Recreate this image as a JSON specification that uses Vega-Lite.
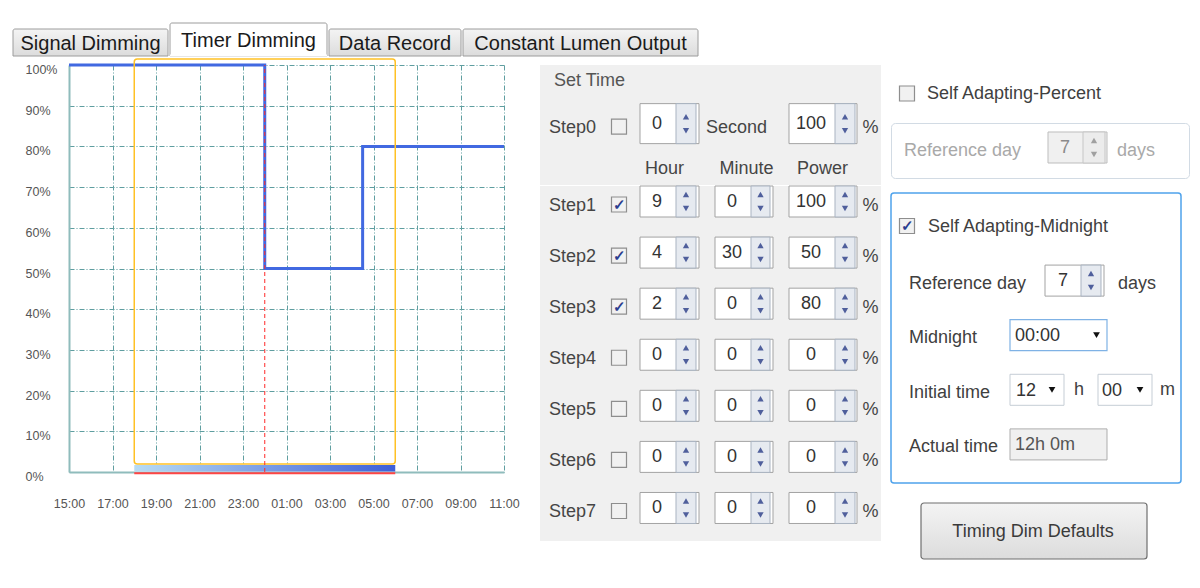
{
"$schema": "https://vega.github.io/schema/vega-lite/v6.json",
"background": "#ffffff",
"padding": {"left": 12, "top": 22, "right": 0, "bottom": 0},
"config": {"view": {"stroke": null}, "font": "Liberation Sans"},
"spacing": 1,
"datasets": {
  "power": [
    {"h": 15, "p": 100},
    {"h": 24, "p": 50},
    {"h": 28.5, "p": 80},
    {"h": 35, "p": 80}
  ],
  "win": [{"start": 18, "end": 30}],
  "midnight": [{"h": 24}],
  "step0": [{"step": "Step0", "on": false, "sec": 0, "unit": "Second", "power": 100, "pct": "%"}],
  "steps": [
    {"step": "Step1", "on": true, "hour": 9, "minute": 0, "power": 100, "pct": "%"},
    {"step": "Step2", "on": true, "hour": 4, "minute": 30, "power": 50, "pct": "%"},
    {"step": "Step3", "on": true, "hour": 2, "minute": 0, "power": 80, "pct": "%"},
    {"step": "Step4", "on": false, "hour": 0, "minute": 0, "power": 0, "pct": "%"},
    {"step": "Step5", "on": false, "hour": 0, "minute": 0, "power": 0, "pct": "%"},
    {"step": "Step6", "on": false, "hour": 0, "minute": 0, "power": 0, "pct": "%"},
    {"step": "Step7", "on": false, "hour": 0, "minute": 0, "power": 0, "pct": "%"}
  ],
  "percent": [{"label": "Self Adapting-Percent", "on": false}],
  "percentRef": [{"label": "Reference day", "value": 7, "unit": "days"}],
  "adapt": [
    {"row": "Self Adapting-Midnight", "on": true},
    {"row": "Reference day", "value": "7", "unit": "days"},
    {"row": "Midnight", "value": "00:00"},
    {"row": "Initial time", "h": "12", "hu": "h", "m": "00", "mu": "m"},
    {"row": "Actual time", "value": "12h 0m"}
  ],
  "button": [{"label": "Timing Dim Defaults"}]
},
"vconcat": [
  {
    "spacing": 0,
    "hconcat": [
      {"width": 155, "height": 33,
       "data": {"values": [{"tab": "Signal Dimming"}]},
       "encoding": {"x": {"field": "tab", "type": "nominal", "scale": {"type": "band", "paddingInner": 0, "paddingOuter": 0}, "axis": null}},
       "layer": [
         {"mark": {"type": "rect", "fill": {"gradient": "linear", "x1": 0, "y1": 0, "x2": 0, "y2": 1, "stops": [{"offset": 0, "color": "#f4f4f4"}, {"offset": 1, "color": "#dcdcdc"}]}, "stroke": "#9c9c9c", "strokeWidth": 1, "cornerRadiusTopLeft": 2, "cornerRadiusTopRight": 2},
          "encoding": {"y": {"datum": 27, "type": "quantitative", "scale": {"domain": [0, 33]}, "axis": null}, "y2": {"datum": 0}}},
         {"mark": {"type": "text", "fontSize": 20, "fill": "#1a1a1a", "baseline": "alphabetic"},
          "encoding": {"text": {"field": "tab"}, "y": {"datum": 6.5, "type": "quantitative", "scale": {"domain": [0, 33]}, "axis": null}}}
       ]},
      {"width": 157, "height": 33,
       "data": {"values": [{"tab": "Timer Dimming"}]},
       "encoding": {"x": {"field": "tab", "type": "nominal", "scale": {"type": "band", "paddingInner": 0, "paddingOuter": 0}, "axis": null}},
       "layer": [
         {"mark": {"type": "rect", "fill": "#ffffff", "stroke": "#9c9c9c", "strokeWidth": 1, "cornerRadiusTopLeft": 2, "cornerRadiusTopRight": 2},
          "encoding": {"y": {"datum": 33, "type": "quantitative", "scale": {"domain": [0, 33]}, "axis": null}, "y2": {"datum": 0}}},
         {"mark": {"type": "rect", "fill": "#ffffff", "strokeWidth": 0},
          "encoding": {"y": {"datum": 1.5, "type": "quantitative", "scale": {"domain": [0, 33]}, "axis": null}, "y2": {"datum": -0.6}}},
         {"mark": {"type": "text", "fontSize": 20, "fill": "#1a1a1a", "baseline": "alphabetic"},
          "encoding": {"text": {"field": "tab"}, "y": {"datum": 9.5, "type": "quantitative", "scale": {"domain": [0, 33]}, "axis": null}}}
       ]},
      {"width": 132, "height": 33,
       "data": {"values": [{"tab": "Data Record"}]},
       "encoding": {"x": {"field": "tab", "type": "nominal", "scale": {"type": "band", "paddingInner": 0, "paddingOuter": 0}, "axis": null}},
       "layer": [
         {"mark": {"type": "rect", "fill": {"gradient": "linear", "x1": 0, "y1": 0, "x2": 0, "y2": 1, "stops": [{"offset": 0, "color": "#f4f4f4"}, {"offset": 1, "color": "#dcdcdc"}]}, "stroke": "#9c9c9c", "strokeWidth": 1, "cornerRadiusTopLeft": 2, "cornerRadiusTopRight": 2},
          "encoding": {"y": {"datum": 27, "type": "quantitative", "scale": {"domain": [0, 33]}, "axis": null}, "y2": {"datum": 0}}},
         {"mark": {"type": "text", "fontSize": 20, "fill": "#1a1a1a", "baseline": "alphabetic"},
          "encoding": {"text": {"field": "tab"}, "y": {"datum": 6.5, "type": "quantitative", "scale": {"domain": [0, 33]}, "axis": null}}}
       ]},
      {"width": 235, "height": 33,
       "data": {"values": [{"tab": "Constant Lumen Output"}]},
       "encoding": {"x": {"field": "tab", "type": "nominal", "scale": {"type": "band", "paddingInner": 0, "paddingOuter": 0}, "axis": null}},
       "layer": [
         {"mark": {"type": "rect", "fill": {"gradient": "linear", "x1": 0, "y1": 0, "x2": 0, "y2": 1, "stops": [{"offset": 0, "color": "#f4f4f4"}, {"offset": 1, "color": "#dcdcdc"}]}, "stroke": "#9c9c9c", "strokeWidth": 1, "cornerRadiusTopLeft": 2, "cornerRadiusTopRight": 2},
          "encoding": {"y": {"datum": 27, "type": "quantitative", "scale": {"domain": [0, 33]}, "axis": null}, "y2": {"datum": 0}}},
         {"mark": {"type": "text", "fontSize": 20, "fill": "#1a1a1a", "baseline": "alphabetic"},
          "encoding": {"text": {"field": "tab"}, "y": {"datum": 6.5, "type": "quantitative", "scale": {"domain": [0, 33]}, "axis": null}}}
       ]}
    ]
  },
  {
    "spacing": 7,
    "hconcat": [
      {"width": 4, "height": 1, "data": {"values": [{"v": 0}]}, "mark": {"type": "point", "opacity": 0},
       "encoding": {"x": {"field": "v", "type": "quantitative", "axis": null}}},
      {
        "width": 435, "height": 407,
        "layer": [
          {"data": {"name": "win"},
           "mark": {"type": "rect", "fill": {"gradient": "linear", "x1": 0, "y1": 0, "x2": 1, "y2": 0, "stops": [{"offset": 0, "color": "#b8dcf4"}, {"offset": 1, "color": "#3d5fd8"}]}},
           "encoding": {"x": {"field": "start", "type": "quantitative"}, "x2": {"field": "end"},
             "y": {"datum": 1.7, "type": "quantitative"}, "y2": {"datum": 0.12}}},
          {"data": {"name": "win"},
           "mark": {"type": "rule", "stroke": "#ff4545", "strokeWidth": 2},
           "encoding": {"x": {"field": "start", "type": "quantitative"}, "x2": {"field": "end"},
             "y": {"datum": -0.3, "type": "quantitative"}}},
          {"data": {"name": "power"},
           "mark": {"type": "line", "interpolate": "step-after", "stroke": "#4169e1", "strokeWidth": 3},
           "encoding": {
             "x": {"field": "h", "type": "quantitative",
               "scale": {"domain": [15, 35], "nice": false, "zero": false},
               "axis": {"title": null, "grid": true, "gridColor": "#5f9ea0", "gridDash": [5, 2, 1, 2], "gridWidth": 1, "gridOpacity": 1,
                 "values": [15, 16, 17, 18, 19, 20, 21, 22, 23, 24, 25, 26, 27, 28, 29, 30, 31, 32, 33, 34, 35],
                 "ticks": false, "tickSize": 0,
                 "domain": true, "domainColor": "#8fbcbc", "domainWidth": 2,
                 "labelExpr": "datum.value % 2 == 1 ? ((datum.value % 24) < 10 ? '0' : '') + (datum.value % 24) + ':00' : ''",
                 "labelFontSize": 12.5, "labelColor": "#555555", "labelPadding": 31, "labelBaseline": "middle",
                 "labelFlush": false, "labelOverlap": false, "labelAngle": 0}},
             "y": {"field": "p", "type": "quantitative",
               "scale": {"domain": [0, 100], "nice": false},
               "axis": {"title": null, "grid": true, "gridColor": "#5f9ea0", "gridDash": [5, 2, 1, 2], "gridWidth": 1, "gridOpacity": 1,
                 "values": [0, 10, 20, 30, 40, 50, 60, 70, 80, 90, 100], "ticks": false, "tickSize": 0,
                 "domainColor": "#8fbcbc", "domainWidth": 2,
                 "labelExpr": "datum.value + '%'", "labelAlign": "left", "labelPadding": 44,
                 "labelFontSize": 12.5, "labelColor": "#555555", "labelBaseline": "middle", "labelOffset": 4.5,
                 "labelFlush": false, "labelOverlap": false}}
           }},
          {"data": {"name": "win"},
           "mark": {"type": "rect", "fillOpacity": 0, "stroke": "#ffc125", "strokeWidth": 1.5, "cornerRadius": 3},
           "encoding": {"x": {"field": "start", "type": "quantitative"}, "x2": {"field": "end"},
             "y": {"datum": 101.5, "type": "quantitative"}, "y2": {"datum": 1.95}}},
          {"data": {"name": "midnight"},
           "mark": {"type": "rule", "stroke": "#ff2a2a", "strokeWidth": 1, "strokeDash": [4, 3]},
           "encoding": {"x": {"field": "h", "type": "quantitative"},
             "y": {"datum": 0, "type": "quantitative"}, "y2": {"datum": 100}}}
        ]
      },
      {"width": 6, "height": 1, "data": {"values": [{"v": 0}]}, "mark": {"type": "point", "opacity": 0},
       "encoding": {"x": {"field": "v", "type": "quantitative", "axis": null}}},
      {
        "spacing": 0,
        "vconcat": [
          {
            "width": 341, "height": 120,
            "view": {"fill": "#f0f0f0"},
            "title": {"text": "Set Time", "anchor": "start", "frame": "group", "orient": "top", "offset": -39, "dx": 14, "fontSize": 18, "fontWeight": "normal", "color": "#555555", "baseline": "alphabetic"},
            "data": {"name": "step0"},
            "encoding": {"y": {"field": "step", "type": "nominal", "scale": {"type": "band", "paddingInner": 0, "paddingOuter": 1.4355, "align": 0.483}, "axis": null}},
            "layer": [
              {"mark": {"type": "text", "align": "left", "dy": 4, "fontSize": 18, "fill": "#454545"}, "encoding": {"x": {"datum": 9, "type": "quantitative", "scale": {"domain": [0, 341]}, "axis": null}, "text": {"field": "step"}}},
              {"mark": {"type": "square", "size": 225, "fill": "#f1f1f1", "stroke": "#8e8e8e", "strokeWidth": 1.2, "opacity": 1, "yOffset": 3}, "encoding": {"x": {"datum": 79, "type": "quantitative", "scale": {"domain": [0, 341]}, "axis": null}}},
              {"mark": {"type": "rect", "fill": "#ffffff", "stroke": "#a3a3a3", "strokeWidth": 1}, "encoding": {"x": {"datum": 100, "type": "quantitative", "scale": {"domain": [0, 341]}, "axis": null}, "x2": {"datum": 159}}},
              {"mark": {"type": "rect", "fill": "#e6eaf0", "stroke": "#a9b3c1", "strokeWidth": 1}, "encoding": {"x": {"datum": 136, "type": "quantitative", "scale": {"domain": [0, 341]}, "axis": null}, "x2": {"datum": 156}}},
              {"mark": {"type": "point", "shape": "triangle-up", "size": 40, "filled": true, "fill": "#4f5f9c", "strokeWidth": 0, "opacity": 1, "yOffset": -7}, "encoding": {"x": {"datum": 146, "type": "quantitative", "scale": {"domain": [0, 341]}, "axis": null}}},
              {"mark": {"type": "point", "shape": "triangle-down", "size": 40, "filled": true, "fill": "#4f5f9c", "strokeWidth": 0, "opacity": 1, "yOffset": 7}, "encoding": {"x": {"datum": 146, "type": "quantitative", "scale": {"domain": [0, 341]}, "axis": null}}},
              {"mark": {"type": "text", "fontSize": 18, "fill": "#333333"}, "encoding": {"x": {"datum": 117, "type": "quantitative", "scale": {"domain": [0, 341]}, "axis": null}, "text": {"field": "sec"}}},
              {"mark": {"type": "text", "align": "left", "dy": 4, "fontSize": 18, "fill": "#454545"}, "encoding": {"x": {"datum": 166, "type": "quantitative", "scale": {"domain": [0, 341]}, "axis": null}, "text": {"field": "unit"}}},
              {"mark": {"type": "rect", "fill": "#ffffff", "stroke": "#a3a3a3", "strokeWidth": 1}, "encoding": {"x": {"datum": 249, "type": "quantitative", "scale": {"domain": [0, 341]}, "axis": null}, "x2": {"datum": 317}}},
              {"mark": {"type": "rect", "fill": "#e6eaf0", "stroke": "#a9b3c1", "strokeWidth": 1}, "encoding": {"x": {"datum": 295, "type": "quantitative", "scale": {"domain": [0, 341]}, "axis": null}, "x2": {"datum": 315}}},
              {"mark": {"type": "point", "shape": "triangle-up", "size": 40, "filled": true, "fill": "#4f5f9c", "strokeWidth": 0, "opacity": 1, "yOffset": -7}, "encoding": {"x": {"datum": 305, "type": "quantitative", "scale": {"domain": [0, 341]}, "axis": null}}},
              {"mark": {"type": "point", "shape": "triangle-down", "size": 40, "filled": true, "fill": "#4f5f9c", "strokeWidth": 0, "opacity": 1, "yOffset": 7}, "encoding": {"x": {"datum": 305, "type": "quantitative", "scale": {"domain": [0, 341]}, "axis": null}}},
              {"mark": {"type": "text", "fontSize": 18, "fill": "#333333"}, "encoding": {"x": {"datum": 271, "type": "quantitative", "scale": {"domain": [0, 341]}, "axis": null}, "text": {"field": "power"}}},
              {"mark": {"type": "text", "dy": 4, "fontSize": 18, "fill": "#454545"}, "encoding": {"x": {"datum": 330.5, "type": "quantitative", "scale": {"domain": [0, 341]}, "axis": null}, "text": {"field": "pct"}}},
              {"mark": {"type": "text", "dy": 45, "fontSize": 18, "fill": "#454545"}, "encoding": {"x": {"datum": 124.5, "type": "quantitative", "scale": {"domain": [0, 341]}, "axis": null}, "text": {"value": "Hour"}}},
              {"mark": {"type": "text", "dy": 45, "fontSize": 18, "fill": "#454545"}, "encoding": {"x": {"datum": 206.5, "type": "quantitative", "scale": {"domain": [0, 341]}, "axis": null}, "text": {"value": "Minute"}}},
              {"mark": {"type": "text", "dy": 45, "fontSize": 18, "fill": "#454545"}, "encoding": {"x": {"datum": 282.5, "type": "quantitative", "scale": {"domain": [0, 341]}, "axis": null}, "text": {"value": "Power"}}}
            ]
          },
          {
            "width": 341, "height": 355,
            "view": {"fill": "#f0f0f0"},
            "data": {"name": "steps"},
            "encoding": {"y": {"field": "step", "type": "nominal", "scale": {"type": "band", "paddingInner": 0.3931, "paddingOuter": 0.1715, "align": 0}, "axis": null}},
            "layer": [
              {"mark": {"type": "text", "align": "left", "dy": 4, "fontSize": 18, "fill": "#454545"}, "encoding": {"x": {"datum": 9, "type": "quantitative", "scale": {"domain": [0, 341]}, "axis": null}, "text": {"field": "step"}}},
              {"mark": {"type": "square", "size": 225, "fill": "#f1f1f1", "stroke": "#8e8e8e", "strokeWidth": 1.2, "opacity": 1, "yOffset": 3}, "encoding": {"x": {"datum": 79, "type": "quantitative", "scale": {"domain": [0, 341]}, "axis": null}}},
              {"transform": [{"filter": "datum.on"}], "mark": {"type": "text", "text": "✓", "fontSize": 15, "fontWeight": "bold", "fill": "#2b3d8f", "dy": 3}, "encoding": {"x": {"datum": 79, "type": "quantitative", "scale": {"domain": [0, 341]}, "axis": null}}},
              {"mark": {"type": "rect", "fill": "#ffffff", "stroke": "#a3a3a3", "strokeWidth": 1}, "encoding": {"x": {"datum": 100, "type": "quantitative", "scale": {"domain": [0, 341]}, "axis": null}, "x2": {"datum": 159}}},
              {"mark": {"type": "rect", "fill": "#e6eaf0", "stroke": "#a9b3c1", "strokeWidth": 1}, "encoding": {"x": {"datum": 136, "type": "quantitative", "scale": {"domain": [0, 341]}, "axis": null}, "x2": {"datum": 156}}},
              {"mark": {"type": "point", "shape": "triangle-up", "size": 40, "filled": true, "fill": "#4f5f9c", "strokeWidth": 0, "opacity": 1, "yOffset": -7}, "encoding": {"x": {"datum": 146, "type": "quantitative", "scale": {"domain": [0, 341]}, "axis": null}}},
              {"mark": {"type": "point", "shape": "triangle-down", "size": 40, "filled": true, "fill": "#4f5f9c", "strokeWidth": 0, "opacity": 1, "yOffset": 7}, "encoding": {"x": {"datum": 146, "type": "quantitative", "scale": {"domain": [0, 341]}, "axis": null}}},
              {"mark": {"type": "text", "fontSize": 18, "fill": "#333333"}, "encoding": {"x": {"datum": 117, "type": "quantitative", "scale": {"domain": [0, 341]}, "axis": null}, "text": {"field": "hour"}}},
              {"mark": {"type": "rect", "fill": "#ffffff", "stroke": "#a3a3a3", "strokeWidth": 1}, "encoding": {"x": {"datum": 175, "type": "quantitative", "scale": {"domain": [0, 341]}, "axis": null}, "x2": {"datum": 233}}},
              {"mark": {"type": "rect", "fill": "#e6eaf0", "stroke": "#a9b3c1", "strokeWidth": 1}, "encoding": {"x": {"datum": 211, "type": "quantitative", "scale": {"domain": [0, 341]}, "axis": null}, "x2": {"datum": 230}}},
              {"mark": {"type": "point", "shape": "triangle-up", "size": 40, "filled": true, "fill": "#4f5f9c", "strokeWidth": 0, "opacity": 1, "yOffset": -7}, "encoding": {"x": {"datum": 220.5, "type": "quantitative", "scale": {"domain": [0, 341]}, "axis": null}}},
              {"mark": {"type": "point", "shape": "triangle-down", "size": 40, "filled": true, "fill": "#4f5f9c", "strokeWidth": 0, "opacity": 1, "yOffset": 7}, "encoding": {"x": {"datum": 220.5, "type": "quantitative", "scale": {"domain": [0, 341]}, "axis": null}}},
              {"mark": {"type": "text", "fontSize": 18, "fill": "#333333"}, "encoding": {"x": {"datum": 192, "type": "quantitative", "scale": {"domain": [0, 341]}, "axis": null}, "text": {"field": "minute"}}},
              {"mark": {"type": "rect", "fill": "#ffffff", "stroke": "#a3a3a3", "strokeWidth": 1}, "encoding": {"x": {"datum": 249, "type": "quantitative", "scale": {"domain": [0, 341]}, "axis": null}, "x2": {"datum": 317}}},
              {"mark": {"type": "rect", "fill": "#e6eaf0", "stroke": "#a9b3c1", "strokeWidth": 1}, "encoding": {"x": {"datum": 295, "type": "quantitative", "scale": {"domain": [0, 341]}, "axis": null}, "x2": {"datum": 315}}},
              {"mark": {"type": "point", "shape": "triangle-up", "size": 40, "filled": true, "fill": "#4f5f9c", "strokeWidth": 0, "opacity": 1, "yOffset": -7}, "encoding": {"x": {"datum": 305, "type": "quantitative", "scale": {"domain": [0, 341]}, "axis": null}}},
              {"mark": {"type": "point", "shape": "triangle-down", "size": 40, "filled": true, "fill": "#4f5f9c", "strokeWidth": 0, "opacity": 1, "yOffset": 7}, "encoding": {"x": {"datum": 305, "type": "quantitative", "scale": {"domain": [0, 341]}, "axis": null}}},
              {"mark": {"type": "text", "fontSize": 18, "fill": "#333333"}, "encoding": {"x": {"datum": 271, "type": "quantitative", "scale": {"domain": [0, 341]}, "axis": null}, "text": {"field": "power"}}},
              {"mark": {"type": "text", "dy": 4, "fontSize": 18, "fill": "#454545"}, "encoding": {"x": {"datum": 330.5, "type": "quantitative", "scale": {"domain": [0, 341]}, "axis": null}, "text": {"field": "pct"}}}
            ]
          }
        ]
      },
      {
        "spacing": 0,
        "vconcat": [
          {
            "width": 298, "height": 57,
            "data": {"name": "percent"},
            "encoding": {"y": {"field": "label", "type": "nominal", "scale": {"type": "band", "paddingInner": 0, "paddingOuter": 0}, "axis": null}},
            "layer": [
              {"mark": {"type": "square", "size": 225, "fill": "#f1f1f1", "stroke": "#8e8e8e", "strokeWidth": 1.2, "opacity": 1}, "encoding": {"x": {"datum": 16, "type": "quantitative", "scale": {"domain": [0, 298]}, "axis": null}}},
              {"mark": {"type": "text", "align": "left", "dy": 0, "fontSize": 18, "fill": "#404040"}, "encoding": {"x": {"datum": 36, "type": "quantitative", "scale": {"domain": [0, 298]}, "axis": null}, "text": {"field": "label"}}}
            ]
          },
          {
            "width": 298, "height": 55,
            "view": {"fill": "#ffffff", "stroke": "#d2dbe4", "strokeWidth": 1, "cornerRadius": 4},
            "data": {"name": "percentRef"},
            "encoding": {"y": {"field": "label", "type": "nominal", "scale": {"type": "band", "paddingInner": 0, "paddingOuter": 0.387, "align": 0.375}, "axis": null}},
            "layer": [
              {"mark": {"type": "text", "align": "left", "dy": 3, "fontSize": 18, "fill": "#a9a9a9"}, "encoding": {"x": {"datum": 13, "type": "quantitative", "scale": {"domain": [0, 298]}, "axis": null}, "text": {"field": "label"}}},
              {"mark": {"type": "rect", "fill": "#f0f0f0", "stroke": "#bdbdbd", "strokeWidth": 1}, "encoding": {"x": {"datum": 157, "type": "quantitative", "scale": {"domain": [0, 298]}, "axis": null}, "x2": {"datum": 216}}},
              {"mark": {"type": "rect", "fill": "#ececec", "stroke": "#c6c6c6", "strokeWidth": 1}, "encoding": {"x": {"datum": 192, "type": "quantitative", "scale": {"domain": [0, 298]}, "axis": null}, "x2": {"datum": 214}}},
              {"mark": {"type": "point", "shape": "triangle-up", "size": 40, "filled": true, "fill": "#a0a0a0", "strokeWidth": 0, "opacity": 1, "yOffset": -7}, "encoding": {"x": {"datum": 203, "type": "quantitative", "scale": {"domain": [0, 298]}, "axis": null}}},
              {"mark": {"type": "point", "shape": "triangle-down", "size": 40, "filled": true, "fill": "#a0a0a0", "strokeWidth": 0, "opacity": 1, "yOffset": 7}, "encoding": {"x": {"datum": 203, "type": "quantitative", "scale": {"domain": [0, 298]}, "axis": null}}},
              {"mark": {"type": "text", "fontSize": 18, "fill": "#8a8a8a"}, "encoding": {"x": {"datum": 174, "type": "quantitative", "scale": {"domain": [0, 298]}, "axis": null}, "text": {"field": "value"}}},
              {"mark": {"type": "text", "align": "left", "dy": 3, "fontSize": 18, "fill": "#a9a9a9"}, "encoding": {"x": {"datum": 226, "type": "quantitative", "scale": {"domain": [0, 298]}, "axis": null}, "text": {"field": "unit"}}}
            ]
          },
          {"width": 1, "height": 13, "data": {"values": [{"v": 0}]}, "mark": {"type": "point", "opacity": 0},
           "encoding": {"x": {"field": "v", "type": "quantitative", "axis": null}}},
          {
            "width": 290, "height": 290,
            "view": {"fill": "#ffffff", "stroke": "#4fa3ec", "strokeWidth": 1.5, "cornerRadius": 3},
            "data": {"name": "adapt"},
            "encoding": {"y": {"field": "row", "type": "nominal", "scale": {"type": "band", "domain": ["Self Adapting-Midnight", "Reference day", "Midnight", "Initial time", "Actual time"], "paddingInner": 0.432, "paddingOuter": 0.3716, "align": 0.431}, "axis": null}},
            "layer": [
              {"transform": [{"filter": "datum.row != 'Self Adapting-Midnight'"}], "mark": {"type": "text", "align": "left", "dy": 3, "fontSize": 18, "fill": "#404040"}, "encoding": {"x": {"datum": 18, "type": "quantitative", "scale": {"domain": [0, 290]}, "axis": null}, "text": {"field": "row"}}},
              {"transform": [{"filter": "datum.row == 'Self Adapting-Midnight'"}], "mark": {"type": "text", "align": "left", "dy": 1, "fontSize": 18, "fill": "#404040"}, "encoding": {"x": {"datum": 37, "type": "quantitative", "scale": {"domain": [0, 290]}, "axis": null}, "text": {"field": "row"}}},
              {"transform": [{"filter": "datum.row == 'Self Adapting-Midnight'"}], "mark": {"type": "square", "size": 225, "fill": "#f1f1f1", "stroke": "#8e8e8e", "strokeWidth": 1.2, "opacity": 1}, "encoding": {"x": {"datum": 16, "type": "quantitative", "scale": {"domain": [0, 290]}, "axis": null}}},
              {"transform": [{"filter": "datum.row == 'Self Adapting-Midnight' && datum.on"}], "mark": {"type": "text", "text": "✓", "fontSize": 15, "fontWeight": "bold", "fill": "#2b3d8f"}, "encoding": {"x": {"datum": 16, "type": "quantitative", "scale": {"domain": [0, 290]}, "axis": null}}},
              {"transform": [{"filter": "datum.row == 'Reference day'"}], "mark": {"type": "rect", "fill": "#ffffff", "stroke": "#a3a3a3", "strokeWidth": 1}, "encoding": {"x": {"datum": 154, "type": "quantitative", "scale": {"domain": [0, 290]}, "axis": null}, "x2": {"datum": 213}}},
              {"transform": [{"filter": "datum.row == 'Reference day'"}], "mark": {"type": "rect", "fill": "#e6eaf0", "stroke": "#a9b3c1", "strokeWidth": 1}, "encoding": {"x": {"datum": 190, "type": "quantitative", "scale": {"domain": [0, 290]}, "axis": null}, "x2": {"datum": 210}}},
              {"transform": [{"filter": "datum.row == 'Reference day'"}], "mark": {"type": "point", "shape": "triangle-up", "size": 40, "filled": true, "fill": "#4f5f9c", "strokeWidth": 0, "opacity": 1, "yOffset": -7}, "encoding": {"x": {"datum": 200, "type": "quantitative", "scale": {"domain": [0, 290]}, "axis": null}}},
              {"transform": [{"filter": "datum.row == 'Reference day'"}], "mark": {"type": "point", "shape": "triangle-down", "size": 40, "filled": true, "fill": "#4f5f9c", "strokeWidth": 0, "opacity": 1, "yOffset": 7}, "encoding": {"x": {"datum": 200, "type": "quantitative", "scale": {"domain": [0, 290]}, "axis": null}}},
              {"transform": [{"filter": "datum.row == 'Reference day'"}], "mark": {"type": "text", "fontSize": 18, "fill": "#333333"}, "encoding": {"x": {"datum": 172, "type": "quantitative", "scale": {"domain": [0, 290]}, "axis": null}, "text": {"field": "value"}}},
              {"transform": [{"filter": "datum.row == 'Reference day'"}], "mark": {"type": "text", "align": "left", "dy": 3, "fontSize": 18, "fill": "#404040"}, "encoding": {"x": {"datum": 227, "type": "quantitative", "scale": {"domain": [0, 290]}, "axis": null}, "text": {"field": "unit"}}},
              {"transform": [{"filter": "datum.row == 'Midnight'"}], "mark": {"type": "rect", "fill": "#ffffff", "stroke": "#7fb2e5", "strokeWidth": 1.2}, "encoding": {"x": {"datum": 119, "type": "quantitative", "scale": {"domain": [0, 290]}, "axis": null}, "x2": {"datum": 216}}},
              {"transform": [{"filter": "datum.row == 'Midnight'"}], "mark": {"type": "text", "align": "left", "dy": 0.5, "fontSize": 18, "fill": "#333333"}, "encoding": {"x": {"datum": 124, "type": "quantitative", "scale": {"domain": [0, 290]}, "axis": null}, "text": {"field": "value"}}},
              {"transform": [{"filter": "datum.row == 'Midnight'"}], "mark": {"type": "point", "shape": "triangle-down", "size": 45, "filled": true, "fill": "#111111", "strokeWidth": 0, "opacity": 1}, "encoding": {"x": {"datum": 205.5, "type": "quantitative", "scale": {"domain": [0, 290]}, "axis": null}}},
              {"transform": [{"filter": "datum.row == 'Initial time'"}], "mark": {"type": "rect", "fill": "#ffffff", "stroke": "#c5cdd5", "strokeWidth": 1}, "encoding": {"x": {"datum": 119, "type": "quantitative", "scale": {"domain": [0, 290]}, "axis": null}, "x2": {"datum": 173}}},
              {"transform": [{"filter": "datum.row == 'Initial time'"}], "mark": {"type": "text", "align": "left", "dy": 1, "fontSize": 18, "fill": "#333333"}, "encoding": {"x": {"datum": 125, "type": "quantitative", "scale": {"domain": [0, 290]}, "axis": null}, "text": {"field": "h"}}},
              {"transform": [{"filter": "datum.row == 'Initial time'"}], "mark": {"type": "point", "shape": "triangle-down", "size": 45, "filled": true, "fill": "#111111", "strokeWidth": 0, "opacity": 1}, "encoding": {"x": {"datum": 161, "type": "quantitative", "scale": {"domain": [0, 290]}, "axis": null}}},
              {"transform": [{"filter": "datum.row == 'Initial time'"}], "mark": {"type": "text", "align": "left", "dy": 0, "fontSize": 18, "fill": "#404040"}, "encoding": {"x": {"datum": 183, "type": "quantitative", "scale": {"domain": [0, 290]}, "axis": null}, "text": {"field": "hu"}}},
              {"transform": [{"filter": "datum.row == 'Initial time'"}], "mark": {"type": "rect", "fill": "#ffffff", "stroke": "#c5cdd5", "strokeWidth": 1}, "encoding": {"x": {"datum": 207, "type": "quantitative", "scale": {"domain": [0, 290]}, "axis": null}, "x2": {"datum": 261}}},
              {"transform": [{"filter": "datum.row == 'Initial time'"}], "mark": {"type": "text", "align": "left", "dy": 1, "fontSize": 18, "fill": "#333333"}, "encoding": {"x": {"datum": 211, "type": "quantitative", "scale": {"domain": [0, 290]}, "axis": null}, "text": {"field": "m"}}},
              {"transform": [{"filter": "datum.row == 'Initial time'"}], "mark": {"type": "point", "shape": "triangle-down", "size": 45, "filled": true, "fill": "#111111", "strokeWidth": 0, "opacity": 1}, "encoding": {"x": {"datum": 249, "type": "quantitative", "scale": {"domain": [0, 290]}, "axis": null}}},
              {"transform": [{"filter": "datum.row == 'Initial time'"}], "mark": {"type": "text", "align": "left", "dy": 0, "fontSize": 18, "fill": "#404040"}, "encoding": {"x": {"datum": 269, "type": "quantitative", "scale": {"domain": [0, 290]}, "axis": null}, "text": {"field": "mu"}}},
              {"transform": [{"filter": "datum.row == 'Actual time'"}], "mark": {"type": "rect", "fill": "#f0f0f0", "stroke": "#adadad", "strokeWidth": 1}, "encoding": {"x": {"datum": 119, "type": "quantitative", "scale": {"domain": [0, 290]}, "axis": null}, "x2": {"datum": 216}}},
              {"transform": [{"filter": "datum.row == 'Actual time'"}], "mark": {"type": "text", "align": "left", "dy": 1, "fontSize": 18, "fill": "#555555"}, "encoding": {"x": {"datum": 124, "type": "quantitative", "scale": {"domain": [0, 290]}, "axis": null}, "text": {"field": "value"}}}
            ]
          },
          {"width": 1, "height": 18, "data": {"values": [{"v": 0}]}, "mark": {"type": "point", "opacity": 0},
           "encoding": {"x": {"field": "v", "type": "quantitative", "axis": null}}},
          {
            "width": 298, "height": 56,
            "data": {"name": "button"},
            "encoding": {"y": {"field": "label", "type": "nominal", "scale": {"type": "band", "paddingInner": 0, "paddingOuter": 0}, "axis": null}},
            "layer": [
              {"mark": {"type": "rect", "fill": {"gradient": "linear", "x1": 0, "y1": 0, "x2": 0, "y2": 1, "stops": [{"offset": 0, "color": "#f4f4f4"}, {"offset": 1, "color": "#dcdcdc"}]}, "stroke": "#6f6f6f", "strokeWidth": 1.2, "cornerRadius": 3},
               "encoding": {"x": {"datum": 30, "type": "quantitative", "scale": {"domain": [0, 298]}, "axis": null}, "x2": {"datum": 256}}},
              {"mark": {"type": "text", "fontSize": 18, "fill": "#3a3a3a", "dy": 1}, "encoding": {"x": {"datum": 142, "type": "quantitative", "scale": {"domain": [0, 298]}, "axis": null}, "text": {"field": "label"}}}
            ]
          }
        ]
      }
    ]
  }
]
}
